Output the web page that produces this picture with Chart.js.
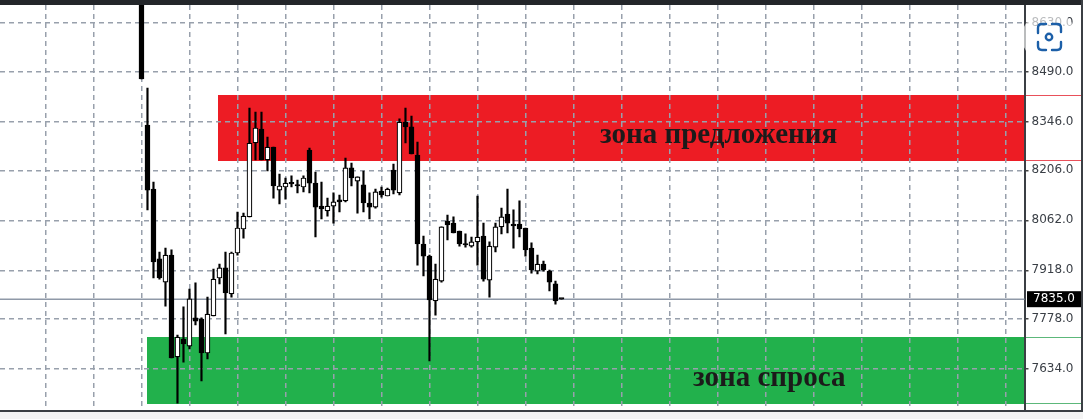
<!DOCTYPE html>
<html lang="ru">
<head>
<meta charset="utf-8">
<title>зона предложения / зона спроса</title>
<script src="https://cdn.jsdelivr.net/npm/chart.js@4/dist/chart.umd.min.js"></script>
<style>
    html, body { margin: 0; padding: 0; background: #fff; overflow: hidden; }
    .wrap { position: relative; width: 1083px; height: 419px; }
    /* оригинал - размытый скриншот */
    canvas { position: absolute; left: 0; top: 0; filter: blur(0.4px); }
    .topBar { position: absolute; left: 0; top: 0; width: 1083px; height: 5px; background: #23262a; }
    .bottomBar { position: absolute; left: 0; top: 410px; width: 1083px; height: 2px; background: #3b3f44; }
    .bottomFill { position: absolute; left: 0; top: 412px; width: 1083px; height: 7px; background: #f4f4f4; }
    .rightBar { position: absolute; left: 1081px; top: 0; width: 2px; height: 412px; background: #3b3f44; }
    .scanIcon { position: absolute; left: 1017px; top: 5px; }
</style>
</head>
<body>
<div class="wrap">
    <canvas id="priceChart" width="1083" height="419"></canvas>
    <div class="topBar"></div>
    <div class="bottomBar"></div>
    <div class="bottomFill"></div>
    <div class="rightBar"></div>
    <svg class="scanIcon" width="64" height="64" viewBox="0 0 64 64">
        <circle cx="32" cy="32" r="27" fill="#fff" fill-opacity="0.65"/>
        <g fill="none" stroke="#1c5fa8" stroke-width="2.4" stroke-linecap="round">
            <path d="M21 28 v-5 q0-4 4-4 h4"/>
            <path d="M35 19 h5 q4 0 4 4 v4"/>
            <path d="M44 37 v4 q0 4-4 4 h-5"/>
            <path d="M29 45 h-4 q-4 0-4-4 v-4"/>
            <circle cx="32" cy="32" r="3.2"/>
        </g>
    </svg>
</div>

<script>
// --- данные ---
const opens = [8700, 8336, 8152, 7951, 7884, 7962, 7669, 7720, 7700, 7781, 7778, 7680, 7787, 7896, 7925, 7850, 7968, 8037, 8072, 8285, 8325, 8236, 8273, 8149, 8158, 8169, 8164, 8158, 8264, 8169, 8103, 8089, 8103, 8121, 8118, 8213, 8175, 8164, 8112, 8100, 8146, 8132, 8207, 8141, 8345, 8331, 8250, 7994, 7959, 7830, 7887, 8060, 8054, 8031, 7994, 7988, 8000, 8017, 7890, 7985, 8043, 8080, 8051, 8051, 8040, 7982, 7916, 7936, 7916, 7879, 7835];
const highs = [8700, 8443, 8172, 7971, 7982, 7977, 7732, 7813, 7864, 7882, 7781, 7841, 7922, 7936, 7971, 7971, 8086, 8083, 8385, 8374, 8374, 8302, 8273, 8195, 8184, 8190, 8178, 8190, 8270, 8201, 8172, 8126, 8141, 8135, 8241, 8227, 8187, 8204, 8141, 8152, 8158, 8155, 8224, 8354, 8385, 8362, 8287, 8017, 7962, 7936, 8043, 8077, 8072, 8031, 8023, 8014, 8132, 8054, 8000, 8054, 8097, 8152, 8092, 8118, 8040, 7997, 7962, 7945, 7919, 7887, 7835];
const lows = [8469, 8092, 7896, 7893, 7815, 7666, 7536, 7654, 7692, 7761, 7600, 7663, 7787, 7879, 7735, 7841, 7962, 8011, 8072, 8236, 8236, 8204, 8126, 8109, 8123, 8158, 8141, 8144, 8141, 8014, 8066, 8074, 8054, 8086, 8115, 8161, 8083, 8086, 8066, 8097, 8129, 8132, 8138, 8135, 8285, 8253, 7933, 7902, 7657, 7789, 7884, 8006, 8026, 7988, 7985, 7985, 7933, 7887, 7841, 7971, 8023, 8026, 7982, 8014, 7959, 7910, 7908, 7916, 7859, 7821, 7835];
const closes = [8469, 8149, 7942, 7896, 7962, 7666, 7726, 7706, 7836, 7772, 7680, 7792, 7893, 7925, 7853, 7968, 8040, 8074, 8284, 8328, 8236, 8273, 8161, 8161, 8169, 8167, 8161, 8184, 8169, 8100, 8095, 8103, 8115, 8115, 8213, 8184, 8187, 8112, 8100, 8144, 8135, 8152, 8149, 8345, 8331, 8253, 7994, 7959, 7833, 7893, 8043, 8049, 8026, 7994, 7991, 8000, 8014, 7893, 7988, 8043, 8072, 8054, 8046, 8037, 7977, 7919, 7936, 7919, 7884, 7830, 7835];

const priceTicks = [8630, 8490, 8346, 8206, 8062, 7918, 7778, 7634];
const timeTicks = [-16, -8, 0, 8, 16, 24, 32, 40, 48, 56, 64, 72, 80, 88, 96, 104, 112, 120, 128, 136, 144];
const currentPrice = 7835;

// зоны: подпись, с какого бара начинается, верх и низ по цене
const zoneLabels = ["зона предложения", "зона спроса"];
const zoneStartBars = [12.75, 0.92];
const zoneTops = [8423, 7726];
const zoneBottoms = [8233, 7533];

const barIndexes = opens.map((_, i) => i);

const zoneColors = ["#ed1c24", "#22b14c"];
const zoneEdgeColors = ["#e9505a", "#5cb87a"];

// зоны рисуем до сетки, чтобы пунктир был поверх них
const zonesPlugin = {
    id: "zones",
    beforeDraw(chart) {
        const { ctx, chartArea, scales } = chart;
        zoneLabels.forEach((_, i) => {
            const left = Math.round(scales.x.getPixelForValue(zoneStartBars[i]));
            const top = Math.round(scales.y.getPixelForValue(zoneTops[i]));
            const bottom = Math.round(scales.y.getPixelForValue(zoneBottoms[i]));
            ctx.fillStyle = zoneColors[i];
            ctx.fillRect(left, top, chartArea.right - left, bottom - top);
            // тонкие линии уходят на шкалу цен
            ctx.fillStyle = zoneEdgeColors[i];
            ctx.fillRect(chartArea.right, top, chart.width - chartArea.right, 1);
            ctx.fillRect(chartArea.right, bottom - 1, chart.width - chartArea.right, 1);
        });
    },
    afterDatasetsDraw(chart) {
        const { ctx } = chart;
        ctx.save();
        ctx.fillStyle = "#1c1a1a";
        ctx.font = "bold 29px 'Liberation Serif'";
        ctx.textBaseline = "middle";
        ctx.textAlign = "left";
        ctx.fillText(zoneLabels[0], 600, 136);
        ctx.fillText(zoneLabels[1], 693, 379);
        ctx.restore();
    },
    afterDraw(chart) {
        // плашка текущей цены
        const { ctx, scales } = chart;
        const y = scales.y.getPixelForValue(currentPrice);
        ctx.save();
        ctx.fillStyle = "#000";
        ctx.fillRect(1027, y - 8, 54, 16);
        ctx.fillStyle = "#fff";
        ctx.font = "12px 'DejaVu Sans'";
        ctx.textBaseline = "middle";
        ctx.textAlign = "left";
        ctx.fillText(currentPrice.toFixed(1), 1033, y);
        ctx.restore();
    }
};

const chart = new Chart(document.getElementById("priceChart").getContext("2d"), {
    type: "bar",
    data: {
        datasets: [
            {
                // тела свечей
                label: "body",
                data: barIndexes.map(i => ({ x: i, y: [Math.min(opens[i], closes[i]), Math.max(opens[i], closes[i])] })),
                backgroundColor: barIndexes.map(i => closes[i] > opens[i] ? "#ffffff" : "#000000"),
                borderColor: "#000000",
                borderWidth: 1.2,
                borderSkipped: false,
                barThickness: 5,
                minBarLength: 1.5,
                grouped: false
            },
            {
                // тени свечей
                label: "wick",
                data: barIndexes.map(i => ({ x: i, y: [lows[i], highs[i]] })),
                backgroundColor: "#000000",
                barThickness: 1.5,
                grouped: false
            },
            {
                // линия текущей цены
                type: "line",
                label: "price",
                data: [{ x: -24, y: currentPrice }, { x: 148, y: currentPrice }],
                borderColor: "#8f99a8",
                borderWidth: 1.5,
                pointRadius: 0
            }
        ]
    },
    options: {
        responsive: false,
        animation: false,
        layout: { padding: { top: 5, bottom: 9, left: 0, right: 0 } },
        plugins: { legend: { display: false }, tooltip: { enabled: false } },
        scales: {
            x: {
                type: "linear",
                offset: false,
                min: -23.58,
                max: 147.17,
                ticks: { display: false, autoSkip: false },
                afterBuildTicks(scale) {
                    scale.ticks = timeTicks.map(v => ({ value: v }));
                },
                afterFit(scale) {
                    scale.paddingLeft = 0;
                    scale.paddingRight = 0;
                },
                grid: { color: "#98a0ac", lineWidth: 1.5, drawTicks: false, offset: false },
                border: { display: false, dash: [5, 4] }
            },
            y: {
                position: "right",
                min: 7516,
                max: 8682,
                afterBuildTicks(scale) {
                    scale.ticks = priceTicks.map(v => ({ value: v }));
                },
                afterFit(scale) {
                    scale.width = 58.5;
                    scale.paddingTop = 0;
                    scale.paddingBottom = 0;
                },
                ticks: {
                    autoSkip: false,
                    color: "#3a3f46",
                    padding: 3,
                    font: { family: "'DejaVu Sans'", size: 12 },
                    callback: v => v.toFixed(1)
                },
                grid: {
                    color: "#98a0ac",
                    lineWidth: 1.5,
                    tickColor: "#444",
                    tickLength: 4,
                    tickWidth: 1.5,
                    tickBorderDash: []
                },
                border: { display: true, color: "#3b3f44", width: 2, dash: [5, 4] }
            }
        }
    },
    plugins: [zonesPlugin]
});
</script>
</body>
</html>
